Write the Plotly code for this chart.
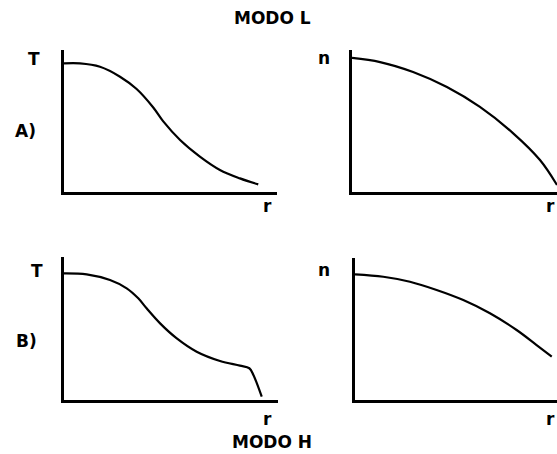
import plotly.graph_objects as go

W, H = 557, 454

# Temperature profile T(r), L-mode
r_TA = [0.0, 0.075, 0.169, 0.263, 0.341, 0.419, 0.466, 0.545, 0.638, 0.732, 0.826, 0.912]
T_A = [0.906, 0.906, 0.882, 0.812, 0.725, 0.595, 0.497, 0.366, 0.249, 0.155, 0.096, 0.054]

# Density profile n(r), L-mode
r_nA = [0.0, 0.137, 0.298, 0.463, 0.624, 0.785, 0.917, 1.0]
n_A = [0.944, 0.915, 0.845, 0.739, 0.599, 0.415, 0.225, 0.049]

# Temperature profile T(r), H-mode (edge pedestal)
r_TB = [0.0, 0.106, 0.215, 0.293, 0.347, 0.386, 0.449, 0.527, 0.62, 0.729, 0.822, 0.866, 0.885, 0.924]
T_B = [0.886, 0.879, 0.839, 0.781, 0.711, 0.641, 0.536, 0.431, 0.338, 0.273, 0.24, 0.222, 0.175, 0.023]

# Density profile n(r), H-mode
r_nB = [0.0, 0.14, 0.272, 0.404, 0.536, 0.668, 0.8, 0.899, 0.974]
n_B = [0.885, 0.868, 0.833, 0.775, 0.704, 0.611, 0.493, 0.387, 0.305]

# panel boxes in pixels: (left, right, top, bottom)
panels = [
    (64, 277, 50, 192),
    (352, 557, 50, 192),
    (64, 278, 257, 400),
    (355, 557, 258, 400),
]
series = [(r_TA, T_A), (r_nA, n_A), (r_TB, T_B), (r_nB, n_B)]

fig = go.Figure()
for i, ((l, r, t, b), (xs, ys)) in enumerate(zip(panels, series), start=1):
    sfx = "" if i == 1 else str(i)
    fig.add_trace(go.Scatter(
        x=xs, y=ys, mode="lines",
        line=dict(color="black", width=2.2, shape="spline", smoothing=1.0),
        xaxis="x" + sfx, yaxis="y" + sfx, showlegend=False, hoverinfo="skip",
    ))
    ax = dict(showgrid=False, zeroline=False, showticklabels=False, ticks="",
              showline=True, linecolor="black", linewidth=3, fixedrange=True)
    fig.layout["xaxis" + sfx] = dict(ax, domain=[l / W, r / W], range=[0, 1],
                                     anchor="y" + sfx)
    fig.layout["yaxis" + sfx] = dict(ax, domain=[1 - b / H, 1 - t / H], range=[0, 1],
                                     anchor="x" + sfx)

font = dict(family="DejaVu Sans", size=17, color="black", weight="bold")
labels = [
    ("MODO L", 272, 18),
    ("MODO H", 272, 442),
    ("T", 34, 59),
    ("A)", 25, 131),
    ("r", 267, 206),
    ("n", 324, 58),
    ("r", 550, 206),
    ("T", 37, 271),
    ("B)", 27, 341),
    ("r", 267, 419),
    ("n", 324, 270),
    ("r", 550, 419),
]
for txt, px, py in labels:
    fig.add_annotation(text=txt, x=px / W, y=1 - py / H, xref="paper", yref="paper",
                       showarrow=False, xanchor="center", yanchor="middle", font=font)

fig.update_layout(width=W, height=H, margin=dict(l=0, r=0, t=0, b=0),
                  paper_bgcolor="white", plot_bgcolor="white")
fig.write_html("out.html")
